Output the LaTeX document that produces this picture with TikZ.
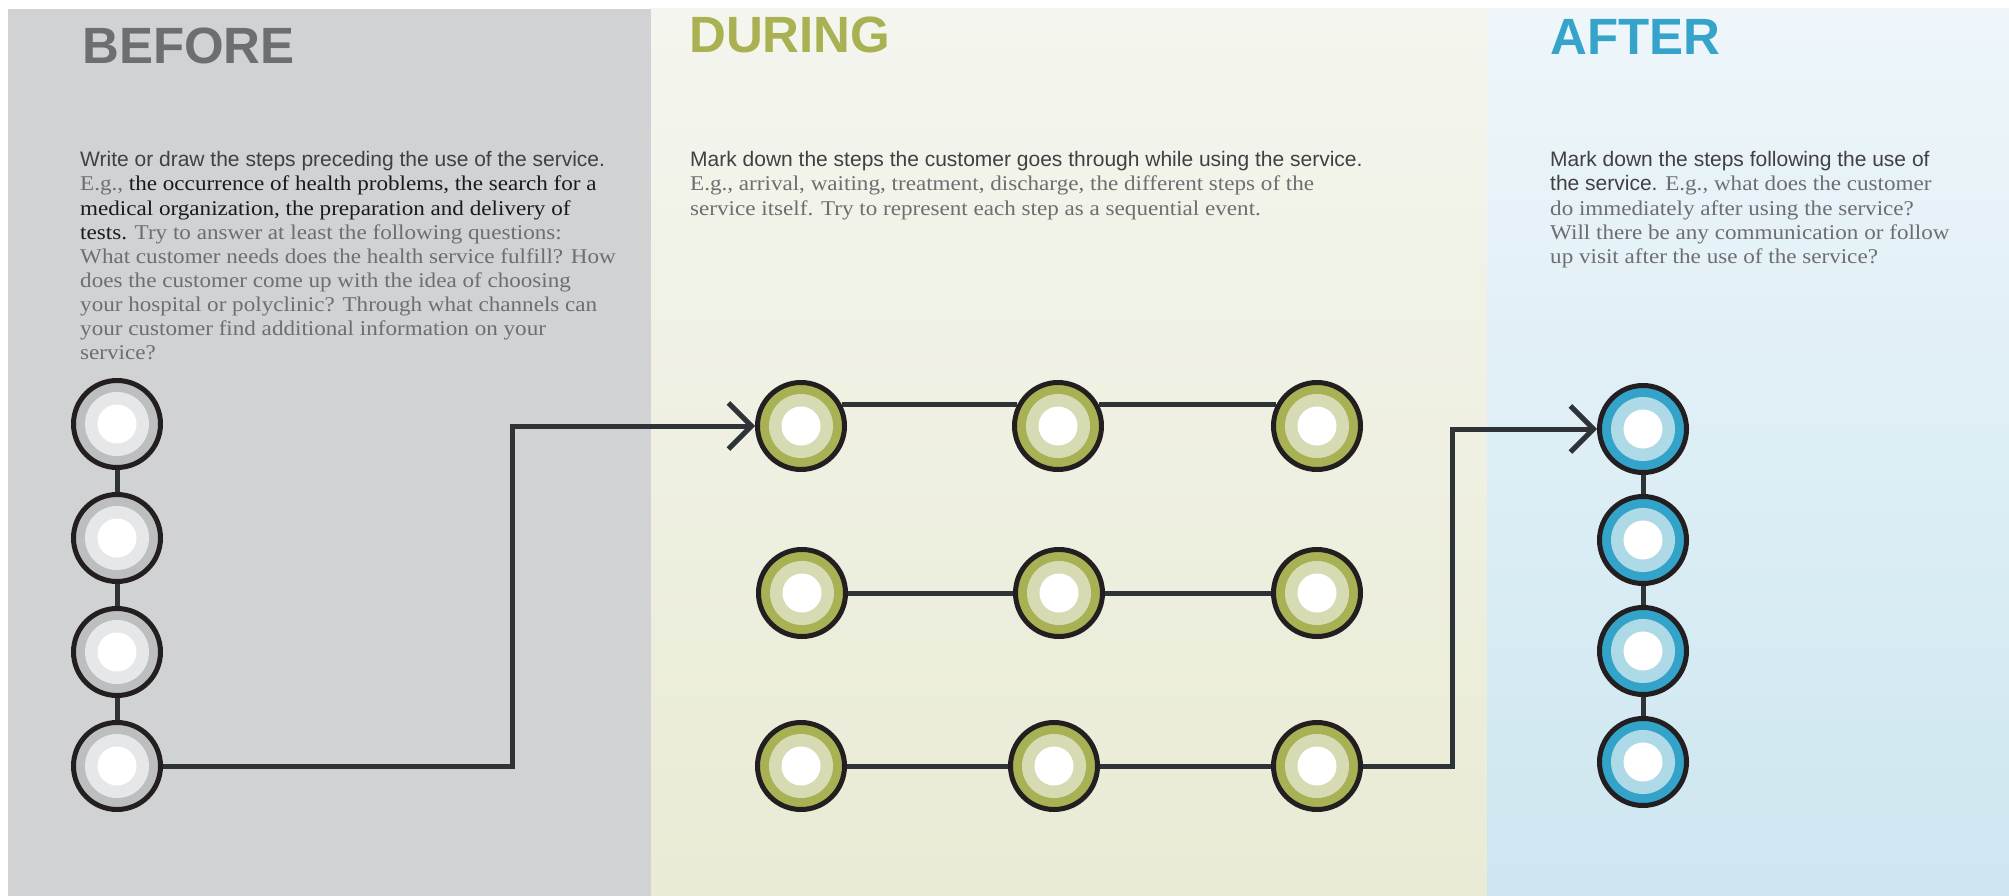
\documentclass[tikz,border=0pt]{standalone}
\usepackage{fontspec}
\setmainfont{Liberation Serif}
\newfontfamily\sansf{Liberation Sans}
\newfontfamily\serifw[FakeStretch=1.1]{Liberation Serif}
\usetikzlibrary{arrows.meta}
\definecolor{bgbefore}{HTML}{D1D2D4}
\definecolor{duringtop}{HTML}{F4F5EE}
\definecolor{duringbot}{HTML}{E9EBD5}
\definecolor{aftertop}{HTML}{EEF6FA}
\definecolor{afterbot}{HTML}{CDE6F0}
\definecolor{titlebefore}{HTML}{6D6E71}
\definecolor{titleduring}{HTML}{A9B152}
\definecolor{titleafter}{HTML}{36A4CA}
\definecolor{tdark}{HTML}{414042}
\definecolor{tgray}{HTML}{6D6E71}
\definecolor{tblack}{HTML}{1A1A1A}
\definecolor{ringblack}{HTML}{231F20}
\definecolor{connc}{HTML}{2E3338}
\definecolor{ringbefore}{HTML}{BCBEC0}
\definecolor{lightbefore}{HTML}{E6E7E8}
\definecolor{ringduring}{HTML}{A8B153}
\definecolor{lightduring}{HTML}{D7DBB4}
\definecolor{ringafter}{HTML}{33A3C9}
\definecolor{lightafter}{HTML}{AED9E7}
\begin{document}
\begin{tikzpicture}[x=1pt,y=-1pt,
  title/.style={anchor=base west, inner sep=0pt, font=\sansf\bfseries\fontsize{51}{51}\selectfont},
  sansline/.style={anchor=base west, inner sep=0pt, text=tdark, font=\sansf\fontsize{21}{24}\selectfont},
  serifline/.style={anchor=base west, inner sep=0pt, text=tgray, font=\serifw\fontsize{21}{24}\selectfont},
  stepc/.style 2 args={circle, draw=ringblack, line width=5pt, minimum size=87pt, inner sep=0pt, fill=#1,
    path picture={\fill[#2] (path picture bounding box.center) circle[radius=32pt];
                  \fill[white] (path picture bounding box.center) circle[radius=19.5pt];}},
  bc/.style={stepc={ringbefore}{lightbefore}},
  dc/.style={stepc={ringduring}{lightduring}},
  ac/.style={stepc={ringafter}{lightafter}},
  conn/.style={draw=connc, line width=5pt},
  arrowconn/.style={conn, -{Straight Barb[length=23pt,width=46pt]}}
]
\useasboundingbox (0,0) rectangle (2009,896);
\fill[white] (0,0) rectangle (2009,896);
\fill[bgbefore] (8,9) rectangle (651,896);
\shade[top color=duringtop, bottom color=duringbot] (651,9) rectangle (1487,896);
\shade[top color=aftertop, bottom color=afterbot] (1487,9) rectangle (2009,896);

% titles
\node[title, text=titlebefore] (tbefore) at (82,64) {BEFORE};
\node[title, text=titleduring] (tduring) at (689,53) {DURING};
\node[title, text=titleafter] (tafter) at (1550,55) {AFTER};

% BEFORE text
\node[sansline] (bt1) at (80,167) {Write or draw the steps preceding the use of the service.};
\node[serifline] (bt2) at (80,191) {E.g., \color{tblack}the occurrence of health problems, the search for a};
\node[serifline, text=tblack] (bt3) at (80,215) {medical organization, the preparation and delivery of};
\node[serifline] (bt4) at (80,239) {{\color{tblack}tests.} Try to answer at least the following questions:};
\node[serifline] (bt5) at (80,263) {What customer needs does the health service fulfill? How};
\node[serifline] (bt6) at (80,287) {does the customer come up with the idea of choosing};
\node[serifline] (bt7) at (80,311) {your hospital or polyclinic? Through what channels can};
\node[serifline] (bt8) at (80,335) {your customer find additional information on your};
\node[serifline] (bt9) at (80,359) {service?};

% DURING text
\node[sansline] (dt1) at (690,167) {Mark down the steps the customer goes through while using the service.};
\node[serifline] (dt2) at (690,191) {E.g., arrival, waiting, treatment, discharge, the different steps of the};
\node[serifline] (dt3) at (690,215) {service itself. Try to represent each step as a sequential event.};

% AFTER text
\node[sansline] (at1) at (1550,167) {Mark down the steps following the use of};
\node[serifline] (at2) at (1550,191) {{\sansf\color{tdark}the service.} E.g., what does the customer};
\node[serifline] (at3) at (1550,215) {do immediately after using the service?};
\node[serifline] (at4) at (1550,239) {Will there be any communication or follow};
\node[serifline] (at5) at (1550,263) {up visit after the use of the service?};

% BEFORE circles
\node[bc] (b1) at (117,424) {};
\node[bc] (b2) at (117,538) {};
\node[bc] (b3) at (117,652) {};
\node[bc] (b4) at (117,766) {};

% DURING circles
\node[dc] (d11) at (801,426) {};
\node[dc] (d12) at (1058,426) {};
\node[dc] (d13) at (1317,426) {};
\node[dc] (d21) at (802,593) {};
\node[dc] (d22) at (1059,593) {};
\node[dc] (d23) at (1317,593) {};
\node[dc] (d31) at (801,766) {};
\node[dc] (d32) at (1054,766) {};
\node[dc] (d33) at (1317,766) {};

% AFTER circles
\node[ac] (a1) at (1643,429) {};
\node[ac] (a2) at (1643,540) {};
\node[ac] (a3) at (1643,651) {};
\node[ac] (a4) at (1643,762) {};

% connectors
\draw[conn] (b1) -- (b2);
\draw[conn] (b2) -- (b3);
\draw[conn] (b3) -- (b4);
\draw[conn] (d11.28) -- (d12.152);
\draw[conn] (d12.28) -- (d13.152);
\draw[conn] (d21) -- (d22);
\draw[conn] (d22) -- (d23);
\draw[conn] (d31) -- (d32);
\draw[conn] (d32) -- (d33);
\draw[conn] (a1) -- (a2);
\draw[conn] (a2) -- (a3);
\draw[conn] (a3) -- (a4);
\coordinate (j1) at (512,600);
\coordinate (j2) at (1452,600);
\draw[arrowconn] (b4.east) -| (j1) |- (d11.west);
\draw[arrowconn] (d33.east) -| (j2) |- (a1.west);
\end{tikzpicture}
\end{document}
